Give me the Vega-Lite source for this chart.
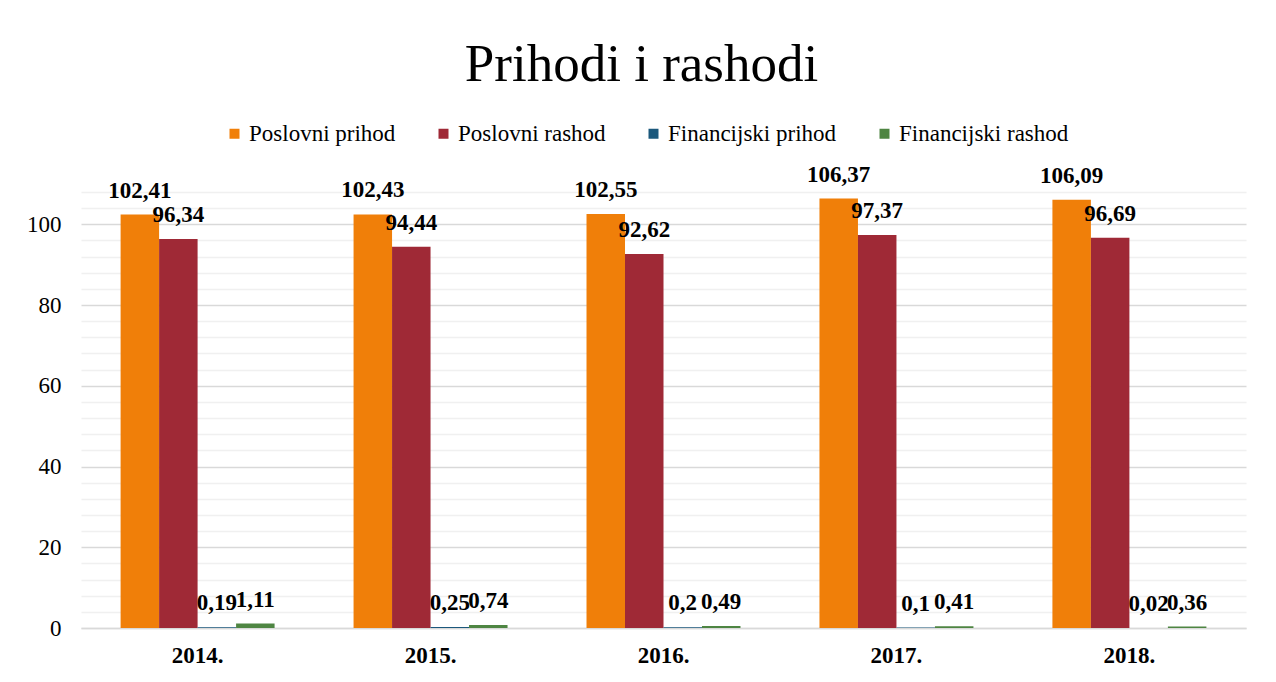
{
  "$schema": "https://vega.github.io/schema/vega-lite/v6.json",
  "width": 1165,
  "height": 436,
  "autosize": {"type": "none"},
  "padding": {"left": 81, "top": 192, "right": 30, "bottom": 54},
  "background": "#ffffff",
  "config": {
    "font": "Liberation Serif",
    "view": {"stroke": null},
    "locale": {"number": {"decimal": ",", "thousands": ".", "grouping": [3], "currency": ["", ""]}}
  },
  "title": {
    "text": "Prihodi i rashodi",
    "font": "Liberation Serif",
    "fontSize": 53,
    "fontWeight": "normal",
    "color": "#000000",
    "anchor": "middle",
    "frame": "group",
    "dx": -22,
    "offset": 30
  },
  "data": {
    "values": [
      {"year": "2014.", "series": "Poslovni prihod", "value": 102.41},
      {"year": "2014.", "series": "Poslovni rashod", "value": 96.34},
      {"year": "2014.", "series": "Financijski prihod", "value": 0.19},
      {"year": "2014.", "series": "Financijski rashod", "value": 1.11},
      {"year": "2015.", "series": "Poslovni prihod", "value": 102.43},
      {"year": "2015.", "series": "Poslovni rashod", "value": 94.44},
      {"year": "2015.", "series": "Financijski prihod", "value": 0.25},
      {"year": "2015.", "series": "Financijski rashod", "value": 0.74},
      {"year": "2016.", "series": "Poslovni prihod", "value": 102.55},
      {"year": "2016.", "series": "Poslovni rashod", "value": 92.62},
      {"year": "2016.", "series": "Financijski prihod", "value": 0.2},
      {"year": "2016.", "series": "Financijski rashod", "value": 0.49},
      {"year": "2017.", "series": "Poslovni prihod", "value": 106.37},
      {"year": "2017.", "series": "Poslovni rashod", "value": 97.37},
      {"year": "2017.", "series": "Financijski prihod", "value": 0.1},
      {"year": "2017.", "series": "Financijski rashod", "value": 0.41},
      {"year": "2018.", "series": "Poslovni prihod", "value": 106.09},
      {"year": "2018.", "series": "Poslovni rashod", "value": 96.69},
      {"year": "2018.", "series": "Financijski prihod", "value": 0.02},
      {"year": "2018.", "series": "Financijski rashod", "value": 0.36}
    ]
  },
  "encoding": {
    "x": {
      "field": "year",
      "type": "nominal",
      "scale": {"paddingInner": 0.339, "paddingOuter": 0.17},
      "axis": {
        "title": null,
        "labelAngle": 0,
        "labelFont": "Liberation Serif",
        "labelFontSize": 23,
        "labelFontWeight": "bold",
        "labelColor": "#000000",
        "labelPadding": 16,
        "ticks": false,
        "domainColor": "#d9d9d9",
        "domainWidth": 1.5,
        "grid": false
      }
    },
    "xOffset": {
      "field": "series",
      "type": "nominal",
      "sort": ["Poslovni prihod", "Poslovni rashod", "Financijski prihod", "Financijski rashod"],
      "scale": {"paddingInner": 0, "paddingOuter": 0}
    },
    "y": {
      "field": "value",
      "type": "quantitative",
      "scale": {"domain": [0, 108], "nice": false},
      "axis": {
        "title": null,
        "values": [0, 4, 8, 12, 16, 20, 24, 28, 32, 36, 40, 44, 48, 52, 56, 60, 64, 68, 72, 76, 80, 84, 88, 92, 96, 100, 104, 108],
        "labelExpr": "datum.value % 20 === 0 ? datum.value : ''",
        "labelFont": "Liberation Serif",
        "labelFontSize": 23,
        "labelColor": "#000000",
        "labelPadding": 20,
        "ticks": false,
        "domain": false,
        "grid": true,
        "gridWidth": 1.5,
        "gridColor": {"condition": {"test": "datum.value % 20 === 0", "value": "#d9d9d9"}, "value": "#f0f0f0"}
      }
    }
  },
  "layer": [
    {
      "mark": {"type": "bar"},
      "encoding": {
        "color": {
          "field": "series",
          "type": "nominal",
          "sort": ["Poslovni prihod", "Poslovni rashod", "Financijski prihod", "Financijski rashod"],
          "scale": {
            "domain": ["Poslovni prihod", "Poslovni rashod", "Financijski prihod", "Financijski rashod"],
            "range": ["#f07f09", "#9f2936", "#1b587c", "#4e8542"]
          },
          "legend": {
            "title": null,
            "orient": "none",
            "direction": "horizontal",
            "legendX": 142,
            "legendY": -70,
            "symbolType": "square",
            "symbolSize": 100,
            "symbolStrokeWidth": 0,
            "labelFont": "Liberation Serif",
            "labelFontSize": 23,
            "labelColor": "#000000",
            "labelLimit": 0,
            "labelOffset": 3,
            "columnPadding": 36
          }
        }
      }
    },
    {
      "mark": {
        "type": "text",
        "font": "Liberation Serif",
        "fontSize": 23,
        "fontWeight": "bold",
        "color": "#000000",
        "baseline": "alphabetic",
        "dy": -17
      },
      "encoding": {
        "text": {"field": "value", "type": "quantitative", "format": ".2~f"}
      }
    }
  ]
}
